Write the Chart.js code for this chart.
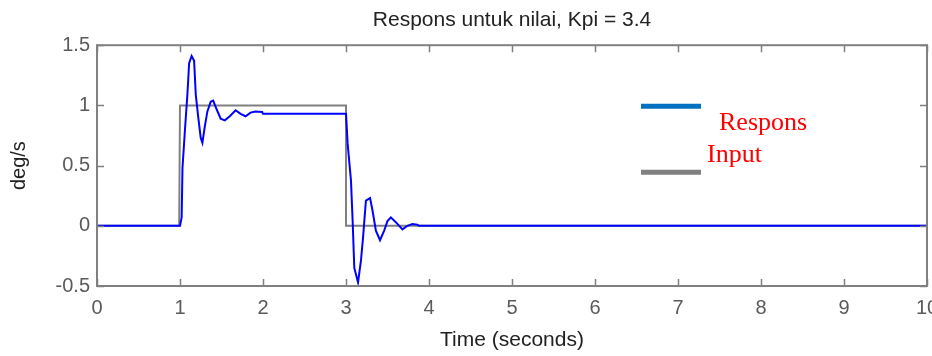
<!DOCTYPE html>
<html>
<head>
<meta charset="utf-8">
<script src="https://cdn.jsdelivr.net/npm/chart.js@4.4.1/dist/chart.umd.min.js"></script>
<style>
  html, body { margin: 0; padding: 0; background: #ffffff; }
  canvas { display: block; }
</style>
</head>
<body>
<canvas id="c" width="932" height="356"></canvas>
<script>
// ---- data ----
const titleText = 'Respons untuk nilai, Kpi = 3.4';
const xTitle = 'Time (seconds)';
const yTitle = 'deg/s';
const xTickValues = [0, 1, 2, 3, 4, 5, 6, 7, 8, 9, 10];
const xTickLabels = ['0', '1', '2', '3', '4', '5', '6', '7', '8', '9', '10'];
const yTickValues = [-0.5, 0, 0.5, 1, 1.5];
const yTickLabels = ['-0.5', '0', '0.5', '1', '1.5'];
const legendLabels = ['Respons', 'Input'];

const inputT = [0, 0.99, 1.0, 3.0, 3.0, 10];
const inputY = [0, 0, 1, 1, 0, 0];

const respT = [0, 1.0, 1.02, 1.03, 1.06, 1.09, 1.11, 1.14, 1.17, 1.19, 1.22, 1.25, 1.27, 1.30, 1.33, 1.37, 1.40, 1.44, 1.49, 1.54, 1.60, 1.67, 1.73, 1.79, 1.85, 1.91, 1.99, 2.0, 3.0, 3.01, 3.02, 3.06, 3.08, 3.10, 3.145, 3.18, 3.205, 3.24, 3.29, 3.32, 3.36, 3.41, 3.46, 3.50, 3.54, 3.60, 3.68, 3.74, 3.80, 3.86, 3.88, 10];
const respY = [0, 0, 0.07, 0.48, 0.80, 1.10, 1.35, 1.41, 1.37, 1.09, 0.90, 0.73, 0.69, 0.83, 0.95, 1.03, 1.04, 0.97, 0.89, 0.876, 0.91, 0.96, 0.93, 0.91, 0.94, 0.95, 0.945, 0.93, 0.93, 0.93, 0.68, 0.375, 0.04, -0.35, -0.47, -0.29, -0.10, 0.21, 0.23, 0.125, -0.04, -0.12, -0.04, 0.04, 0.07, 0.03, -0.03, 0, 0.014, 0.008, 0, 0];

const toPts = (xs, ys) => xs.map((x, i) => ({ x: x, y: ys[i] }));

const SANS = "'Liberation Sans', Arial, sans-serif";
const SERIF = "'Liberation Serif', 'Times New Roman', serif";

const framePlugin = {
  id: 'frame',
  afterDatasetsDraw(chart) {
    const { ctx, chartArea: a, scales } = chart;
    const xs = scales.x, ys = scales.y;
    ctx.save();
    ctx.strokeStyle = '#808080';
    ctx.lineWidth = 1.5;
    const L = 7;
    ctx.beginPath();
    xTickValues.forEach(v => {
      const p = Math.round(xs.getPixelForValue(v)) + 0.5;
      ctx.moveTo(p, a.bottom); ctx.lineTo(p, a.bottom - L);
      ctx.moveTo(p, a.top); ctx.lineTo(p, a.top + L);
    });
    yTickValues.forEach(v => {
      const p = Math.round(ys.getPixelForValue(v)) + 0.5;
      ctx.moveTo(a.left, p); ctx.lineTo(a.left + L, p);
      ctx.moveTo(a.right, p); ctx.lineTo(a.right - L, p);
    });
    ctx.stroke();
    ctx.lineWidth = 2;
    ctx.strokeRect(a.left, a.top, a.right - a.left, a.bottom - a.top);

    // pasted legend annotation
    const lx0 = a.left + 544, lx1 = a.left + 604;
    ctx.lineWidth = 5;
    ctx.lineCap = 'butt';
    ctx.strokeStyle = '#0070c0';
    ctx.beginPath(); ctx.moveTo(lx0, a.top + 61); ctx.lineTo(lx1, a.top + 61); ctx.stroke();
    ctx.strokeStyle = '#808080';
    ctx.beginPath(); ctx.moveTo(lx0, a.top + 127); ctx.lineTo(lx1, a.top + 127); ctx.stroke();
    ctx.fillStyle = '#ff0000';
    ctx.font = '26px ' + SERIF;
    ctx.textBaseline = 'alphabetic';
    ctx.textAlign = 'left';
    ctx.fillText(legendLabels[0], a.left + 622, a.top + 85);
    ctx.fillText(legendLabels[1], a.left + 610, a.top + 117);
    ctx.restore();
  }
};

new Chart(document.getElementById('c'), {
  type: 'scatter',
  data: {
    datasets: [
      {
        label: legendLabels[0],
        data: toPts(respT, respY),
        showLine: true,
        borderColor: '#0000ff',
        borderWidth: 2,
        pointRadius: 0,
        tension: 0
      },
      {
        label: legendLabels[1],
        data: toPts(inputT, inputY),
        showLine: true,
        borderColor: '#808080',
        borderWidth: 2,
        pointRadius: 0,
        tension: 0
      }
    ]
  },
  options: {
    responsive: false,
    animation: false,
    devicePixelRatio: 1,
    layout: { padding: { left: 0, top: 0, right: 5, bottom: 0 } },
    plugins: {
      legend: { display: false },
      tooltip: { enabled: false },
      title: {
        display: true,
        fullSize: false,
        text: titleText,
        color: '#222222',
        font: { family: SANS, size: 21, weight: 'normal' },
        padding: { top: 8, bottom: 12 }
      }
    },
    scales: {
      x: {
        type: 'linear',
        min: 0, max: 10,
        afterBuildTicks: s => { s.ticks = xTickValues.map(v => ({ value: v })); },
        ticks: {
          color: '#5a5a5a',
          font: { family: SANS, size: 20 },
          padding: 10,
          maxRotation: 0,
          autoSkip: false,
          callback: (v) => xTickLabels[xTickValues.indexOf(v)]
        },
        grid: { display: false, drawTicks: false },
        border: { display: false },
        title: {
          display: true,
          text: xTitle,
          color: '#222222',
          font: { family: SANS, size: 21 },
          padding: { top: 0, bottom: 3 }
        },
        afterFit: s => { s.height = 70; s.paddingLeft = 0; s.paddingRight = 0; }
      },
      y: {
        type: 'linear',
        min: -0.5, max: 1.5,
        afterBuildTicks: s => { s.ticks = yTickValues.map(v => ({ value: v })); },
        ticks: {
          color: '#5a5a5a',
          font: { family: SANS, size: 20 },
          padding: 7,
          autoSkip: false,
          callback: (v) => yTickLabels[yTickValues.indexOf(v)]
        },
        grid: { display: false, drawTicks: false },
        border: { display: false },
        title: {
          display: true,
          text: yTitle,
          color: '#222222',
          font: { family: SANS, size: 20 },
          padding: { top: 7, bottom: 0 }
        },
        afterFit: s => { s.width = 97; s.paddingTop = 0; s.paddingBottom = 0; }
      }
    }
  },
  plugins: [framePlugin]
});
</script>
</body>
</html>
